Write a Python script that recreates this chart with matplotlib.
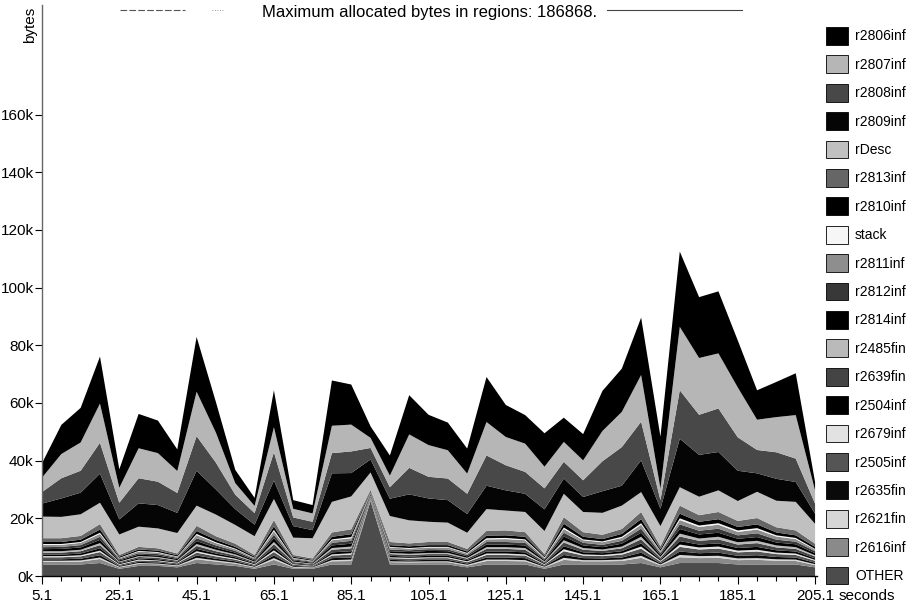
import numpy as np
import matplotlib
matplotlib.use("Agg")
import matplotlib.pyplot as plt
from matplotlib.patches import Patch

plt.rcParams['font.family'] = ['Liberation Sans', 'DejaVu Sans']

# ---------------- data (kbytes) ----------------
seconds = [5.1, 10.1, 15.1, 20.1, 25.1, 30.1, 35.1, 40.1, 45.1, 50.1,
           55.1, 60.1, 65.1, 70.1, 75.1, 80.1, 85.1, 90.1, 95.1, 100.1,
           105.1, 110.1, 115.1, 120.1, 125.1, 130.1, 135.1, 140.1, 145.1, 150.1,
           155.1, 160.1, 165.1, 170.1, 175.1, 180.1, 185.1, 190.1, 195.1, 200.1,
           205.1]

r2806inf = [5, 10.1, 12, 16.3, 6.4, 11.9, 11.3, 7.5, 19, 10.6, 4.6, 2.8, 12.8, 3, 2.9, 15.7, 13.9, 4, 7, 13.6,
            10.5, 9.6, 8.7, 15.6, 11.1, 9.9, 11.6, 8.4, 9.1, 13.9, 15, 19.9, 18, 26.1, 21.1, 21.5, 16.3, 10.2, 12.2, 14.5, 2.9]
r2807inf = [5, 8.4, 9.8, 13.6, 5.2, 10.4, 9.9, 7.6, 15.4, 10.4, 4, 2.5, 8.7, 3, 2.9, 9.5, 9.3, 3.5, 4, 11.6,
            11, 9.8, 7, 11.6, 9.8, 9.8, 7.5, 6.9, 6.9, 10.5, 12.2, 16.2, 4, 22, 19.7, 19.1, 17.3, 10.5, 12.2, 15.1, 4.6]
r2808inf = [4, 7, 7.6, 10.7, 5.8, 8.7, 8.1, 6.9, 12, 9.3, 5, 4, 9.8, 3, 2.9, 7, 7.5, 4, 4, 9.2,
            7.5, 7.5, 7, 10.5, 8.7, 7.6, 7.3, 5.8, 5.8, 10.4, 13.4, 13.4, 3, 16.8, 13.9, 15.1, 11.6, 8.1, 9.2, 8.1, 3.5]
r2809inf = [4.5, 6.4, 7.5, 10.1, 5.2, 8.1, 8.1, 7, 12.1, 8.7, 5.5, 4, 6.4, 4, 2.8, 9.9, 8.1, 4.5, 6, 9,
            8.1, 7.8, 6.5, 8.1, 7, 6.3, 7.5, 5.3, 5.2, 7.5, 6.9, 11, 6, 16.8, 14.5, 13.3, 10.5, 6.4, 7.6, 6.9, 3.5]
rDesc = [7.5, 7.4, 7.5, 7.4, 7.1, 7, 6.9, 7.1, 7, 7.5, 6.5, 6.5, 7.3, 6, 7, 10.6, 11.4, 6, 9, 8,
         7, 6.7, 5.6, 7.5, 6.9, 7, 8, 8.1, 7, 7.6, 8.1, 6.9, 7, 6.4, 6.4, 7.5, 6.9, 9.1, 9.2, 9.9, 6.9]
r2813inf = [1.3, 1.3, 1.3, 1.9, 0.6, 0.9, 0.8, 0.6, 1.8, 1.3, 1.1, 0.6, 2.2, 0.6, 0.5, 1.5, 1.7, 0.6, 1.1, 1.0,
            1.1, 1.1, 0.9, 1.7, 1.7, 1.6, 0.7, 2.3, 1.6, 1.5, 1.7, 2.5, 1.0, 2.8, 2.3, 2.5, 2.1, 2.2, 1.8, 1.7, 1.1]
r2810inf = [0.7, 0.7, 0.8, 1.1, 0.4, 0.5, 0.5, 0.4, 1.0, 0.8, 0.6, 0.4, 1.2, 0.4, 0.3, 0.9, 1.0, 0.3, 0.6, 0.6,
            0.6, 0.6, 0.5, 0.9, 0.9, 0.9, 0.4, 1.3, 0.9, 0.8, 1.0, 1.4, 0.6, 1.6, 1.3, 1.4, 1.2, 1.3, 1.0, 0.9, 0.7]
stack = [0.3, 0.3, 0.3, 0.4, 0.1, 0.2, 0.2, 0.1, 0.4, 0.3, 0.2, 0.1, 0.5, 0.1, 0.1, 0.3, 0.4, 0.1, 0.2, 0.2,
         0.2, 0.2, 0.2, 0.4, 0.4, 0.3, 0.2, 0.5, 0.3, 0.3, 0.4, 0.5, 0.2, 0.6, 0.5, 0.5, 0.5, 0.5, 0.4, 0.4, 0.2]
r2811inf = [0.8, 0.7, 0.8, 1.0, 0.4, 0.6, 0.5, 0.4, 1.1, 0.8, 0.6, 0.4, 1.2, 0.4, 0.3, 0.9, 0.9, 0.3, 0.7, 0.6,
            0.6, 0.7, 0.5, 0.9, 1.0, 0.9, 0.4, 1.3, 0.9, 0.9, 1.0, 1.4, 0.6, 1.5, 1.3, 1.4, 1.2, 1.3, 1.1, 0.9, 0.6]
r2812inf = [0.7, 0.7, 0.8, 1.1, 0.4, 0.5, 0.5, 0.4, 1.0, 0.8, 0.6, 0.4, 1.2, 0.4, 0.3, 0.9, 1.0, 0.3, 0.6, 0.6,
            0.6, 0.6, 0.5, 0.9, 0.9, 0.9, 0.4, 1.3, 0.9, 0.8, 1.0, 1.4, 0.6, 1.6, 1.3, 1.4, 1.2, 1.3, 1.0, 0.9, 0.7]
r2814inf = [0.7, 0.8, 0.8, 1.1, 0.4, 0.5, 0.5, 0.4, 1.0, 0.7, 0.6, 0.4, 1.3, 0.4, 0.3, 0.9, 1.0, 0.3, 0.6, 0.6,
            0.7, 0.6, 0.5, 0.9, 0.9, 0.9, 0.4, 1.3, 0.9, 0.8, 1.0, 1.4, 0.6, 1.6, 1.4, 1.4, 1.2, 1.3, 1.0, 1.0, 0.7]
r2485fin = [0.5, 0.5, 0.5, 0.7, 0.2, 0.3, 0.3, 0.2, 0.7, 0.5, 0.4, 0.2, 0.8, 0.2, 0.2, 0.6, 0.6, 0.2, 0.4, 0.4,
            0.4, 0.4, 0.3, 0.6, 0.6, 0.6, 0.3, 0.8, 0.6, 0.5, 0.6, 0.9, 0.4, 1.0, 0.8, 0.9, 0.8, 0.8, 0.7, 0.6, 0.4]
r2639fin = [0.7, 0.7, 0.8, 1.1, 0.4, 0.5, 0.5, 0.4, 1.0, 0.8, 0.6, 0.4, 1.2, 0.4, 0.3, 0.9, 1.0, 0.3, 0.6, 0.6,
            0.6, 0.6, 0.5, 0.9, 0.9, 0.9, 0.4, 1.3, 0.9, 0.8, 1.0, 1.4, 0.6, 1.6, 1.3, 1.4, 1.2, 1.3, 1.0, 0.9, 0.7]
r2504inf = [0.5, 0.5, 0.6, 0.8, 0.3, 0.4, 0.4, 0.3, 0.8, 0.6, 0.5, 0.3, 0.9, 0.3, 0.2, 0.7, 0.7, 0.2, 0.5, 0.4,
            0.5, 0.5, 0.4, 0.7, 0.7, 0.7, 0.3, 1.0, 0.7, 0.6, 0.7, 1.1, 0.4, 1.2, 1.0, 1.1, 0.9, 1.0, 0.8, 0.7, 0.5]
r2679inf = [0.4, 0.4, 0.4, 0.5, 0.2, 0.3, 0.2, 0.2, 0.5, 0.4, 0.3, 0.2, 0.6, 0.2, 0.1, 0.4, 0.5, 0.2, 0.3, 0.3,
            0.3, 0.3, 0.3, 0.5, 0.5, 0.4, 0.2, 0.7, 0.4, 0.4, 0.5, 0.7, 0.3, 0.8, 0.7, 0.7, 0.6, 0.6, 0.5, 0.5, 0.3]
r2505inf = [0.7, 0.7, 0.8, 1.1, 0.4, 0.5, 0.5, 0.4, 1.0, 0.8, 0.6, 0.4, 1.2, 0.4, 0.3, 0.9, 1.0, 0.3, 0.6, 0.6,
            0.6, 0.6, 0.5, 0.9, 0.9, 0.9, 0.4, 1.3, 0.9, 0.8, 1.0, 1.4, 0.6, 1.6, 1.3, 1.4, 1.2, 1.3, 1.0, 0.9, 0.7]
r2635fin = [0.5, 0.5, 0.6, 0.8, 0.3, 0.4, 0.4, 0.3, 0.8, 0.6, 0.5, 0.3, 0.9, 0.3, 0.2, 0.7, 0.7, 0.2, 0.5, 0.4,
            0.5, 0.5, 0.4, 0.7, 0.7, 0.7, 0.3, 1.0, 0.7, 0.6, 0.7, 1.1, 0.4, 1.2, 1.0, 1.1, 0.9, 1.0, 0.8, 0.7, 0.5]
r2621fin = [0.4, 0.4, 0.4, 0.5, 0.2, 0.3, 0.2, 0.2, 0.5, 0.4, 0.3, 0.2, 0.6, 0.2, 0.1, 0.4, 0.5, 0.2, 0.3, 0.3,
            0.3, 0.3, 0.3, 0.5, 0.5, 0.4, 0.2, 0.7, 0.4, 0.4, 0.5, 0.7, 0.3, 0.8, 0.7, 0.7, 0.6, 0.6, 0.5, 0.5, 0.3]
r2616inf = [0.9, 0.9, 1.0, 1.4, 0.5, 0.7, 0.6, 0.5, 1.3, 1.0, 0.8, 0.5, 1.6, 0.5, 0.4, 1.1, 1.2, 0.4, 0.8, 0.7,
            0.8, 0.8, 0.6, 1.2, 1.2, 1.1, 0.5, 1.6, 1.1, 1.1, 1.2, 1.8, 0.7, 2.0, 1.7, 1.8, 1.5, 1.6, 1.3, 1.2, 0.8]
OTHER = [4, 4, 4, 4.5, 2.5, 3.5, 3.5, 3, 4.5, 4, 3.5, 2.5, 4, 2.5, 2.5, 4, 4, 26, 4, 4,
         4, 4, 3, 4, 4, 4, 2.5, 4, 4, 4, 4, 4.5, 3, 4.5, 4.5, 4.5, 4, 4, 4, 4, 3]

# legend order = stacking order from the top
names = ['r2806inf', 'r2807inf', 'r2808inf', 'r2809inf', 'rDesc', 'r2813inf', 'r2810inf',
         'stack', 'r2811inf', 'r2812inf', 'r2814inf', 'r2485fin', 'r2639fin', 'r2504inf',
         'r2679inf', 'r2505inf', 'r2635fin', 'r2621fin', 'r2616inf', 'OTHER']
series = [r2806inf, r2807inf, r2808inf, r2809inf, rDesc, r2813inf, r2810inf,
          stack, r2811inf, r2812inf, r2814inf, r2485fin, r2639fin, r2504inf,
          r2679inf, r2505inf, r2635fin, r2621fin, r2616inf, OTHER]
shades = ['#000000', '#b6b6b6', '#484848', '#050505', '#c0c0c0', '#666666', '#000000',
          '#f6f6f6', '#8e8e8e', '#383838', '#000000', '#bababa', '#444444', '#000000',
          '#e2e2e2', '#555555', '#0a0a0a', '#d6d6d6', '#8a8a8a', '#4c4c4c']

# ---------------- figure ----------------
fig = plt.figure(figsize=(9.17, 6.04), dpi=100)
ax = fig.add_axes([42 / 917, 28 / 604, 775 / 917, 571 / 604])

ys = [np.array(s) * 1000 for s in series[::-1]]
ax.stackplot(seconds, *ys, colors=shades[::-1], linewidth=0)

ax.set_xlim(5.1, 205.6)
ax.set_ylim(0, 198000)

ax.spines['top'].set_visible(False)
ax.spines['right'].set_visible(False)
ax.spines['left'].set_color('#666666')
ax.spines['left'].set_linewidth(1.0)
ax.spines['bottom'].set_linewidth(1.0)

yt = np.arange(0, 160001, 20000)
ax.set_yticks(yt)
ax.set_yticklabels(['%dk' % (v // 1000) for v in yt], fontsize=11)
xt = seconds[::4]
ax.set_xticks(xt)
ax.set_xticklabels(['%.1f' % v for v in xt], fontsize=11)
ax.set_xticks(seconds, minor=True)
ax.tick_params(axis='y', which='major', length=5, width=0.8, pad=1)
ax.tick_params(axis='x', which='major', length=6, width=0.8, pad=3)
ax.tick_params(axis='x', which='minor', length=3.5, width=0.8)

fig.text(30 / 917, 1 - 25 / 604, 'bytes', rotation=90, ha='center', va='center', fontsize=11)
fig.text(867 / 917, 1 - 596 / 604, 'seconds', ha='center', va='center', fontsize=11)
fig.text(430 / 917, 1 - 12 / 604, 'Maximum allocated bytes in regions: 186868.',
         ha='center', va='center', fontsize=12)

# faint rules either side of the title, as in the scan
fig.add_artist(plt.Line2D([120 / 917, 185 / 917], [1 - 10 / 604] * 2, color='#555555', lw=0.8,
                          ls=(0, (6, 2))))
fig.add_artist(plt.Line2D([212 / 917, 224 / 917], [1 - 10 / 604] * 2, color='#777777', lw=0.6,
                          ls=(0, (1, 2))))
fig.add_artist(plt.Line2D([607 / 917, 742 / 917], [1 - 10 / 604] * 2, color='#444444', lw=0.8))

handles = [Patch(facecolor=c, edgecolor='black', linewidth=0.6, label=n)
           for n, c in zip(names, shades)]
fig.legend(handles=handles, loc='upper left', bbox_to_anchor=(826 / 917, 1 - 27 / 604),
           frameon=False, fontsize=10, handlelength=1.6, handleheight=1.6,
           labelspacing=0.76, handletextpad=0.5, borderpad=0, borderaxespad=0)

fig.savefig('out.png', dpi=100)
